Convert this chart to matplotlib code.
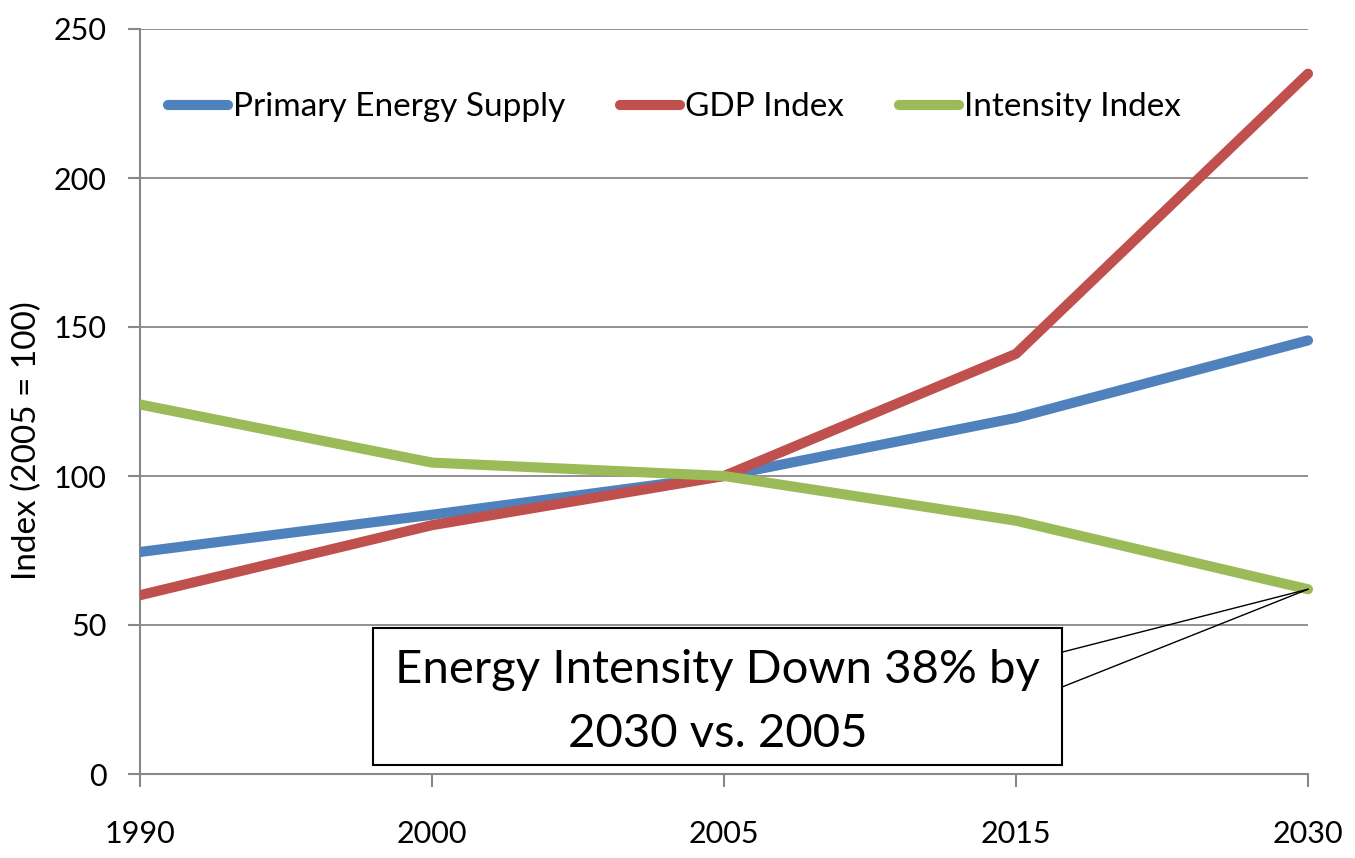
import matplotlib
matplotlib.use("Agg")
import matplotlib.pyplot as plt
from matplotlib.patches import Rectangle

plt.rcParams['font.family'] = ['Lato', 'DejaVu Sans']

years = ["1990", "2000", "2005", "2015", "2030"]
primary_energy = [74.5, 87, 100, 119.5, 145.5]
gdp_index = [60, 83.5, 100, 141, 235]
intensity_index = [124, 104.5, 100, 85, 62]

series_names = ["Primary Energy Supply", "GDP Index", "Intensity Index"]
colors = ["#4F81BD", "#C0504D", "#9BBB59"]

fig = plt.figure(figsize=(13.55, 8.58), dpi=100)
ax = fig.add_axes([140/1355, 1-774/858, (1308-140)/1355, (774-29)/858])

# clip region: left edge at the axis, right side open so end caps show
clip_rect = Rectangle((0, -0.1), 1.05, 1.2, transform=ax.transAxes, visible=False)
ax.add_patch(clip_rect)

x = list(range(len(years)))
for vals, name, c in zip([primary_energy, gdp_index, intensity_index], series_names, colors):
    ln, = ax.plot(x, vals, color=c, lw=7.3, label=name, solid_capstyle='round', zorder=3)
    ln.set_clip_path(clip_rect)

ax.set_xlim(0, len(years)-1)
ax.set_ylim(0, 250)
ax.set_yticks(range(0, 251, 50))
ax.set_xticks(x)
ax.set_xticklabels(years)
ax.tick_params(axis='both', labelsize=22, colors='black', length=9, width=1.5, color='#888888')
ax.tick_params(axis='x', pad=24)
ax.tick_params(axis='y', pad=15)
ax.grid(axis='y', color='#888888', lw=1.3)
ax.set_axisbelow(True)
for s in ['top', 'right']:
    ax.spines[s].set_visible(False)
for s in ['left', 'bottom']:
    ax.spines[s].set_color('#888888')
    ax.spines[s].set_linewidth(1.5)
ax.set_ylabel("Index (2005 = 100)", fontsize=24)
ax.yaxis.set_label_coords(-0.084, 0.447)

leg = ax.legend(loc='center left', bbox_to_anchor=(0.024, 0.895), ncol=3, frameon=False,
                fontsize=24, handlelength=1.8, handletextpad=0.15, columnspacing=1.65,
                borderpad=0, borderaxespad=0)

# annotation box
bx0, bx1, by0, by1 = 0.798, 3.158, 3.0, 49.0
ax.add_patch(Rectangle((bx0, by0), bx1-bx0, by1-by0, facecolor='white', edgecolor='black',
                       lw=1.5, zorder=5, clip_on=False))
ax.text((bx0+bx1)/2, 24.3, "Energy Intensity Down 38% by\n2030 vs. 2005", ha='center',
        va='center', fontsize=34, zorder=6, linespacing=1.65)
for yy in [40.9, 29.2]:
    ax.plot([bx1, 4], [yy, intensity_index[-1]], color='black', lw=1, zorder=6, clip_on=False)

fig.savefig("out.png", dpi=100)
